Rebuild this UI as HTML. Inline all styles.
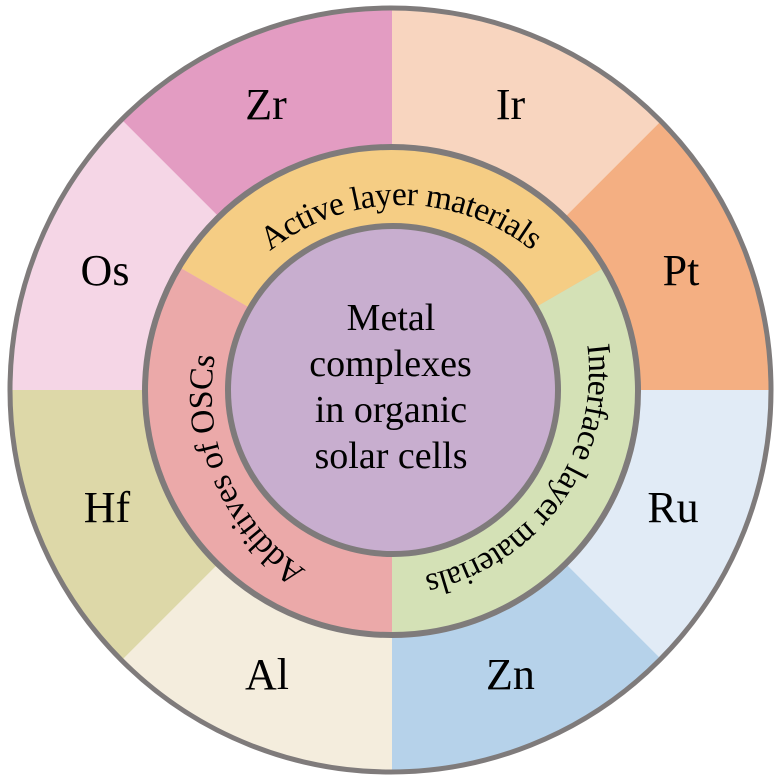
<!DOCTYPE html>
<html><head><meta charset="utf-8"><style>html,body{margin:0;padding:0;background:#fff}svg{display:block}text{font-family:"Liberation Serif",serif;fill:#000}</style></head><body>
<svg width="782" height="782" viewBox="0 0 782 782" xmlns="http://www.w3.org/2000/svg">
<defs>
<path id="a" d="M 270 251.3 A 210 210 0 0 1 581.5 307"/>
<path id="b" d="M 587.2 345 A 208 208 0 0 1 381 580"/>
<path id="c" d="M 306 570 A 213 213 0 0 1 291 227.4"/>
<clipPath id="co"><ellipse cx="390.5" cy="390" rx="380.5" ry="382"/></clipPath>
<clipPath id="cm"><ellipse cx="391.5" cy="391" rx="246.5" ry="244"/></clipPath>
</defs>
<g clip-path="url(#co)">
<g transform="translate(392,390)">
<path d="M0 0V-400H283L283 -283Z" fill="#f8d5bf"/>
<path d="M0 0L400 -400V0Z" fill="#f4af82"/>
<path d="M0 0H400V400Z" fill="#e1ebf6"/>
<path d="M0 0L400 400H0Z" fill="#b6d2ea"/>
<path d="M0 0V400H-400Z" fill="#f4eddd"/>
<path d="M0 0L-400 400V0Z" fill="#ddd8a8"/>
<path d="M0 0H-400V-400Z" fill="#f5d6e6"/>
<path d="M0 0L-400 -400H0Z" fill="#e39cc2"/>
</g>
</g>
<ellipse cx="390.5" cy="390" rx="380.5" ry="382" fill="none" stroke="#7f7b7b" stroke-width="5"/>
<g clip-path="url(#cm)">
<g transform="translate(392,390)">
<path d="M0 0L-260 -150V-300H260V-150Z" fill="#f5cd84"/>
<path d="M0 0L260 -150V300H0Z" fill="#d4e1b6"/>
<path d="M0 0V300H-300V-173.2Z" fill="#eba9a9"/>
</g>
</g>
<ellipse cx="391.5" cy="391" rx="246.5" ry="244" fill="none" stroke="#7f7b7b" stroke-width="6"/>
<ellipse cx="393" cy="390" rx="165" ry="164" fill="#c8aecf" stroke="#7f7b7b" stroke-width="6"/>
<g font-size="33.5">
<text><textPath href="#a" textLength="283">Active layer materials</textPath></text>
<text><textPath href="#b" textLength="310">Interface layer materials</textPath></text>
<text><textPath href="#c" textLength="246">Additives of OSCs</textPath></text>
</g>
<g font-size="44" text-anchor="middle">
<text x="266" y="119">Zr</text>
<text x="510.5" y="119">Ir</text>
<text x="105" y="285">Os</text>
<text x="681" y="285">Pt</text>
<text x="107" y="522">Hf</text>
<text x="673" y="522">Ru</text>
<text x="267" y="689">Al</text>
<text x="510.5" y="689">Zn</text>
</g>
<g font-size="38" text-anchor="middle">
<text x="391" y="330">Metal</text>
<text x="390.5" y="376">complexes</text>
<text x="391" y="422">in organic</text>
<text x="391" y="468">solar cells</text>
</g>
</svg>
</body></html>
